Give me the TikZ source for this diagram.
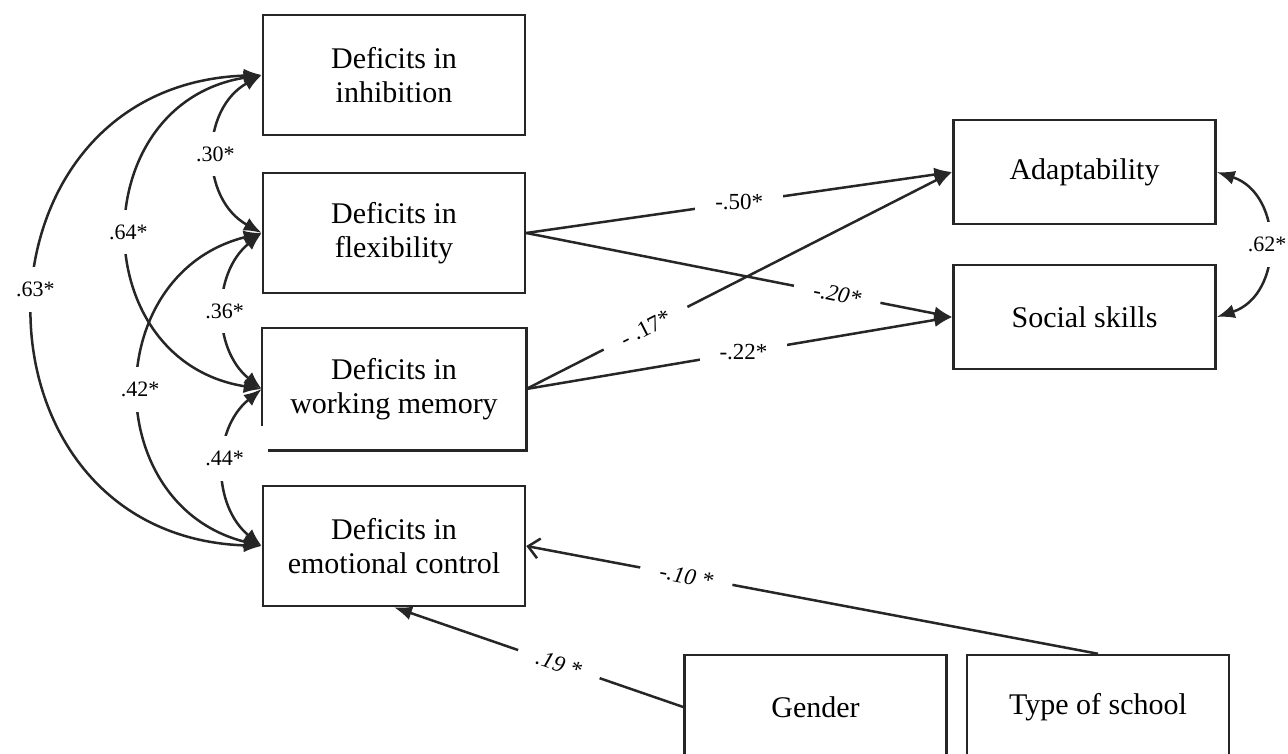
\documentclass[tikz,border=0pt]{standalone}
\usepackage{fontspec}
\setmainfont{Liberation Serif}
\usetikzlibrary{arrows.meta}
\begin{document}
\begin{tikzpicture}[x=1pt,y=-1pt,
  edge/.style={draw=black!85, line width=2.5pt},
  box/.style={edge, minimum width=262pt, minimum height=120pt, inner sep=0pt, align=center,
    font=\fontsize{30}{34.5}\selectfont},
  sbox/.style={box, minimum height=104pt},
  reg/.style={edge, -{Latex[length=18pt,width=14pt]}},
  regopen/.style={edge, -{Straight Barb[length=11pt,width=20pt,line width=2.5pt]}},
  cov/.style={edge, {Latex[length=18pt,width=14pt]}-{Latex[length=18pt,width=14pt]}},
  clab/.style={fill=white, inner xsep=2pt, inner ysep=15pt, font=\fontsize{22}{22}\selectfont},
  rlab/.style={fill=white, inner xsep=20pt, inner ysep=3pt, font=\fontsize{23}{23}\selectfont},
  ilab/.style={rlab, font=\fontsize{23}{23}\selectfont\itshape}
]
\useasboundingbox (0,0) rectangle (1288,753);

% boxes
\node[box] (inh) at (394,75) {Deficits in\\inhibition};
\node[box] (flx) at (394,233) {Deficits in\\flexibility};
\node[box, draw=none] (wm) at (394,389) {Deficits in\\working memory};
\draw[edge] ([yshift=24pt]wm.south west) -- (wm.north west) -- (wm.north east) -- (wm.south east) -- ([xshift=6pt]wm.south west);
\node[box] (emo) at (394,546) {Deficits in\\emotional control};
\node[sbox] (adp) at (1084.5,172) {Adaptability};
\node[sbox] (soc) at (1084.5,317) {Social skills};
\node[sbox] (gen) at (815.5,707) {Gender};
\node[sbox] (typ) at (1098,707) {Type of school};

% regression paths
\draw[reg] (flx.east) -- node[rlab, pos=0.5] {-.50*} (adp.west);
\draw[reg] (flx.east) -- node[ilab, sloped, pos=0.73] {-.20*} (soc.west);
\draw[reg] (wm.east) -- node[rlab, sloped, pos=0.28] {- .17*} (adp.west);
\draw[reg] (wm.east) -- node[rlab, pos=0.51] {-.22*} (soc.west);
\draw[regopen] (typ.north) -- node[ilab, sloped, pos=0.72] {-.10 *} (emo.east);
\draw[reg] (gen.west) -- node[ilab, sloped, pos=0.43] {.19 *} (emo.south);

% covariances
\draw[cov] (inh.west) to[bend right=61, looseness=1.15] node[clab] {.30*} (flx.west);
\draw[cov] (flx.west) to[bend right=51, looseness=1.05] node[clab] {.36*} (wm.west);
\draw[cov] (wm.west) to[bend right=51, looseness=1.05] node[clab, pos=0.45] {.44*} (emo.west);
\draw[cov] (inh.west) to[bend right=81, looseness=1.47] node[clab] {.64*} (wm.west);
\draw[cov] (flx.west) to[bend right=76, looseness=1.37] node[clab] {.42*} (emo.west);
\draw[cov] (inh.west) to[bend right=88, looseness=1.65] node[clab, pos=0.47] {.63*} (emo.west);
\draw[cov] (adp.east) to[bend left=72, looseness=1.25] node[clab] {.62*} (soc.east);
\end{tikzpicture}
\end{document}
